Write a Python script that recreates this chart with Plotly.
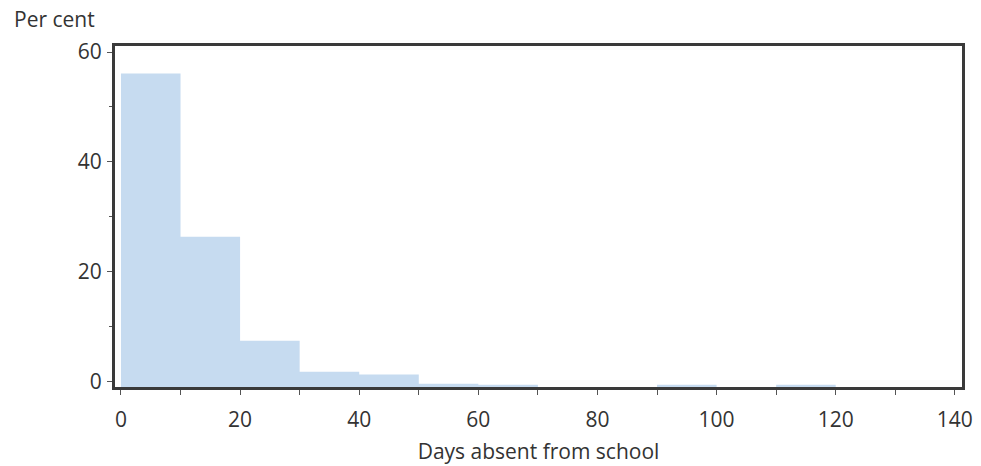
import plotly.graph_objects as go

# Histogram bins (days absent) and their share (per cent)
bin_edges = [0, 10, 20, 30, 40, 50, 60, 70, 80, 90, 100, 110, 120, 130, 140]
per_cent = [56.1, 26.35, 7.35, 1.7, 1.2, -0.45, -0.65, -1.5, -1.5, -0.65, -1.5, -0.65, -1.5, -1.5]
baseline = -1.5

x_ticks = [0, 20, 40, 60, 80, 100, 120, 140]
y_ticks = [0, 20, 40, 60]

BAR = "#c6dbf0"
FRAME = "#3a3a3a"
TXT = "#333333"
FONT = "Open Sans"
FS = 21

fig = go.Figure()
fig.add_trace(go.Scatter(
    x=[bin_edges[0], bin_edges[-1]], y=[baseline, baseline],
    mode="lines", line=dict(width=0), hoverinfo="skip", showlegend=False))
fig.add_trace(go.Scatter(
    x=bin_edges, y=per_cent + [per_cent[-1]],
    mode="lines", line=dict(width=0, shape="hv", color=BAR),
    fill="tonexty", fillcolor=BAR, showlegend=False))

fig.update_layout(
    width=981, height=466,
    margin=dict(l=115, r=19, t=46, b=79),
    paper_bgcolor="white", plot_bgcolor="white",
    font=dict(family=FONT, size=FS, color=TXT),
    xaxis=dict(range=[-1, 141.2], tickvals=x_ticks, ticks="outside", ticklen=5,
               tickcolor="#555555", tickwidth=1, ticklabelstandoff=7, automargin=False,
               minor=dict(dtick=10, ticks="outside", ticklen=5, tickcolor="#555555", tick0=0),
               showgrid=False, zeroline=False, showline=True, linecolor=FRAME, linewidth=3,
               mirror=True,
               title=dict(text="Days absent from school", font=dict(size=FS, color=TXT), standoff=13)),
    yaxis=dict(range=[-1.06, 61.1], tickvals=y_ticks, ticks="outside", ticklen=5,
               tickcolor="#555555", tickwidth=1, ticklabelstandoff=1, automargin=False,
               minor=dict(dtick=10, ticks="outside", ticklen=3, tickcolor="#555555", tick0=0),
               showgrid=False, zeroline=False, showline=True, linecolor=FRAME, linewidth=3,
               mirror=True),
    annotations=[dict(text="Per cent", xref="paper", yref="paper", x=-0.1216, y=1.079,
                      xanchor="left", yanchor="middle", showarrow=False,
                      font=dict(size=FS, color=TXT))],
)

fig.write_html("out.html", config={"displayModeBar": False},
               post_script="document.body.style.margin='0';document.body.style.padding='0';")
